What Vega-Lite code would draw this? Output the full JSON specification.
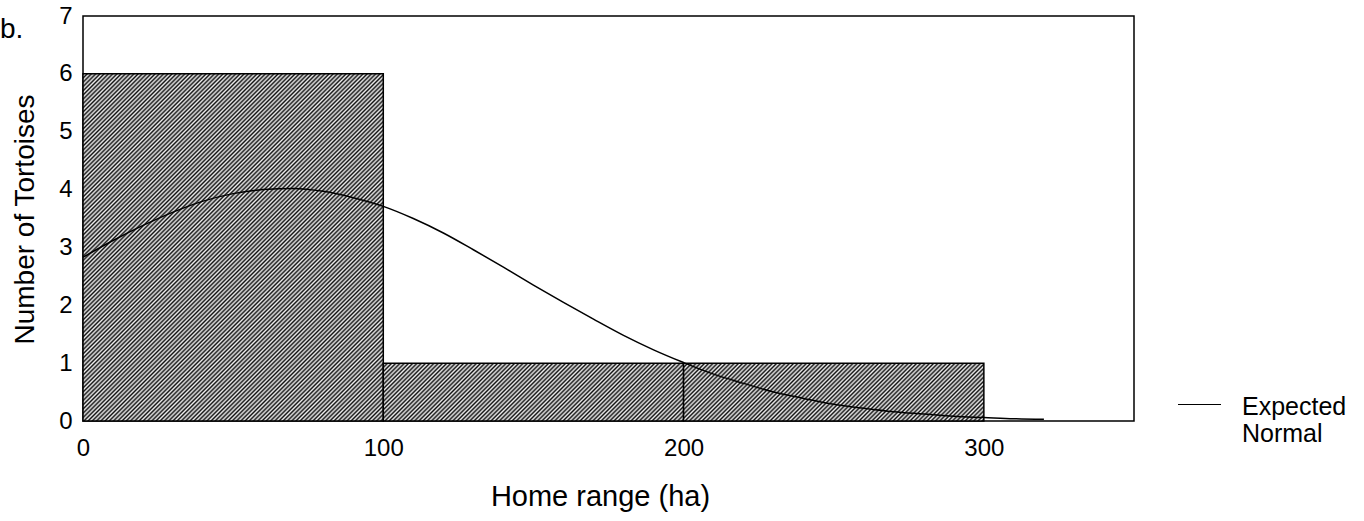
{
"$schema": "https://vega.github.io/schema/vega-lite/v6.json",
"width": 1051,
"height": 405,
"autosize": {"type": "none"},
"padding": {"left": 83, "top": 16, "right": 230, "bottom": 100},
"background": "white",
"title": {"text": "b.", "anchor": "start", "frame": "group", "fontSize": 28, "font": "Liberation Sans", "fontWeight": "normal", "color": "#000", "baseline": "alphabetic", "offset": 0, "dx": -83, "dy": 62},
"datasets": {
"bars": [
{"start": 0, "end": 100, "count": 6},
{"start": 100, "end": 200, "count": 1},
{"start": 200, "end": 300, "count": 1}
],
"curve": [{"x":0,"y":2.83},{"x":10,"y":3.12},{"x":20,"y":3.38},{"x":30,"y":3.61},{"x":40,"y":3.8},{"x":50,"y":3.93},{"x":60,"y":4.0},{"x":70,"y":4.02},{"x":80,"y":3.97},{"x":90,"y":3.86},{"x":100,"y":3.71},{"x":110,"y":3.5},{"x":120,"y":3.25},{"x":130,"y":2.96},{"x":140,"y":2.66},{"x":150,"y":2.35},{"x":160,"y":2.05},{"x":170,"y":1.76},{"x":180,"y":1.48},{"x":190,"y":1.23},{"x":200,"y":1.01},{"x":210,"y":0.81},{"x":220,"y":0.65},{"x":230,"y":0.5},{"x":240,"y":0.39},{"x":250,"y":0.29},{"x":260,"y":0.22},{"x":270,"y":0.16},{"x":280,"y":0.12},{"x":290,"y":0.08},{"x":300,"y":0.06},{"x":310,"y":0.04},{"x":320,"y":0.03}]
},
"layer": [
{
"data": {"name": "bars"},
"transform": [{"filter": "datum.count > 3"}],
"mark": {"type": "rect", "stroke": "#000", "strokeWidth": 1.5, "fill": {"gradient": "linear", "x1": 0, "y1": 0, "x2": 1.008, "y2": 1.165, "stops": [
{"offset":0,"color":"#111"},{"offset":0.003,"color":"#eee"},{"offset":0.006,"color":"#111"},{"offset":0.009,"color":"#eee"},{"offset":0.012,"color":"#111"},{"offset":0.015,"color":"#eee"},{"offset":0.018,"color":"#111"},{"offset":0.021,"color":"#eee"},{"offset":0.024,"color":"#111"},{"offset":0.027,"color":"#eee"},
{"offset":0.030,"color":"#111"},{"offset":0.033,"color":"#eee"},{"offset":0.036,"color":"#111"},{"offset":0.039,"color":"#eee"},{"offset":0.042,"color":"#111"},{"offset":0.045,"color":"#eee"},{"offset":0.048,"color":"#111"},{"offset":0.051,"color":"#eee"},{"offset":0.054,"color":"#111"},{"offset":0.057,"color":"#eee"},
{"offset":0.060,"color":"#111"},{"offset":0.063,"color":"#eee"},{"offset":0.066,"color":"#111"},{"offset":0.069,"color":"#eee"},{"offset":0.072,"color":"#111"},{"offset":0.075,"color":"#eee"},{"offset":0.078,"color":"#111"},{"offset":0.081,"color":"#eee"},{"offset":0.084,"color":"#111"},{"offset":0.087,"color":"#eee"},
{"offset":0.090,"color":"#111"},{"offset":0.093,"color":"#eee"},{"offset":0.096,"color":"#111"},{"offset":0.099,"color":"#eee"},{"offset":0.102,"color":"#111"},{"offset":0.105,"color":"#eee"},{"offset":0.108,"color":"#111"},{"offset":0.111,"color":"#eee"},{"offset":0.114,"color":"#111"},{"offset":0.117,"color":"#eee"},
{"offset":0.120,"color":"#111"},{"offset":0.123,"color":"#eee"},{"offset":0.126,"color":"#111"},{"offset":0.129,"color":"#eee"},{"offset":0.132,"color":"#111"},{"offset":0.135,"color":"#eee"},{"offset":0.138,"color":"#111"},{"offset":0.141,"color":"#eee"},{"offset":0.144,"color":"#111"},{"offset":0.147,"color":"#eee"},
{"offset":0.150,"color":"#111"},{"offset":0.153,"color":"#eee"},{"offset":0.156,"color":"#111"},{"offset":0.159,"color":"#eee"},{"offset":0.162,"color":"#111"},{"offset":0.165,"color":"#eee"},{"offset":0.168,"color":"#111"},{"offset":0.171,"color":"#eee"},{"offset":0.174,"color":"#111"},{"offset":0.177,"color":"#eee"},
{"offset":0.180,"color":"#111"},{"offset":0.183,"color":"#eee"},{"offset":0.186,"color":"#111"},{"offset":0.189,"color":"#eee"},{"offset":0.192,"color":"#111"},{"offset":0.195,"color":"#eee"},{"offset":0.198,"color":"#111"},{"offset":0.201,"color":"#eee"},{"offset":0.204,"color":"#111"},{"offset":0.207,"color":"#eee"},
{"offset":0.210,"color":"#111"},{"offset":0.213,"color":"#eee"},{"offset":0.216,"color":"#111"},{"offset":0.219,"color":"#eee"},{"offset":0.222,"color":"#111"},{"offset":0.225,"color":"#eee"},{"offset":0.228,"color":"#111"},{"offset":0.231,"color":"#eee"},{"offset":0.234,"color":"#111"},{"offset":0.237,"color":"#eee"},
{"offset":0.240,"color":"#111"},{"offset":0.243,"color":"#eee"},{"offset":0.246,"color":"#111"},{"offset":0.249,"color":"#eee"},{"offset":0.252,"color":"#111"},{"offset":0.255,"color":"#eee"},{"offset":0.258,"color":"#111"},{"offset":0.261,"color":"#eee"},{"offset":0.264,"color":"#111"},{"offset":0.267,"color":"#eee"},
{"offset":0.270,"color":"#111"},{"offset":0.273,"color":"#eee"},{"offset":0.276,"color":"#111"},{"offset":0.279,"color":"#eee"},{"offset":0.282,"color":"#111"},{"offset":0.285,"color":"#eee"},{"offset":0.288,"color":"#111"},{"offset":0.291,"color":"#eee"},{"offset":0.294,"color":"#111"},{"offset":0.297,"color":"#eee"},
{"offset":0.300,"color":"#111"},{"offset":0.303,"color":"#eee"},{"offset":0.306,"color":"#111"},{"offset":0.309,"color":"#eee"},{"offset":0.312,"color":"#111"},{"offset":0.315,"color":"#eee"},{"offset":0.318,"color":"#111"},{"offset":0.321,"color":"#eee"},{"offset":0.324,"color":"#111"},{"offset":0.327,"color":"#eee"},
{"offset":0.330,"color":"#111"},{"offset":0.333,"color":"#eee"},{"offset":0.336,"color":"#111"},{"offset":0.339,"color":"#eee"},{"offset":0.342,"color":"#111"},{"offset":0.345,"color":"#eee"},{"offset":0.348,"color":"#111"},{"offset":0.351,"color":"#eee"},{"offset":0.354,"color":"#111"},{"offset":0.357,"color":"#eee"},
{"offset":0.360,"color":"#111"},{"offset":0.363,"color":"#eee"},{"offset":0.366,"color":"#111"},{"offset":0.369,"color":"#eee"},{"offset":0.372,"color":"#111"},{"offset":0.375,"color":"#eee"},{"offset":0.378,"color":"#111"},{"offset":0.381,"color":"#eee"},{"offset":0.384,"color":"#111"},{"offset":0.387,"color":"#eee"},
{"offset":0.390,"color":"#111"},{"offset":0.393,"color":"#eee"},{"offset":0.396,"color":"#111"},{"offset":0.399,"color":"#eee"},{"offset":0.402,"color":"#111"},{"offset":0.405,"color":"#eee"},{"offset":0.408,"color":"#111"},{"offset":0.411,"color":"#eee"},{"offset":0.414,"color":"#111"},{"offset":0.417,"color":"#eee"},
{"offset":0.420,"color":"#111"},{"offset":0.423,"color":"#eee"},{"offset":0.426,"color":"#111"},{"offset":0.429,"color":"#eee"},{"offset":0.432,"color":"#111"},{"offset":0.435,"color":"#eee"},{"offset":0.438,"color":"#111"},{"offset":0.441,"color":"#eee"},{"offset":0.444,"color":"#111"},{"offset":0.447,"color":"#eee"},
{"offset":0.450,"color":"#111"},{"offset":0.453,"color":"#eee"},{"offset":0.456,"color":"#111"},{"offset":0.459,"color":"#eee"},{"offset":0.462,"color":"#111"},{"offset":0.465,"color":"#eee"},{"offset":0.468,"color":"#111"},{"offset":0.471,"color":"#eee"},{"offset":0.474,"color":"#111"},{"offset":0.477,"color":"#eee"},
{"offset":0.480,"color":"#111"},{"offset":0.483,"color":"#eee"},{"offset":0.486,"color":"#111"},{"offset":0.489,"color":"#eee"},{"offset":0.492,"color":"#111"},{"offset":0.495,"color":"#eee"},{"offset":0.498,"color":"#111"},{"offset":0.501,"color":"#eee"},{"offset":0.504,"color":"#111"},{"offset":0.507,"color":"#eee"},
{"offset":0.510,"color":"#111"},{"offset":0.513,"color":"#eee"},{"offset":0.516,"color":"#111"},{"offset":0.519,"color":"#eee"},{"offset":0.522,"color":"#111"},{"offset":0.525,"color":"#eee"},{"offset":0.528,"color":"#111"},{"offset":0.531,"color":"#eee"},{"offset":0.534,"color":"#111"},{"offset":0.537,"color":"#eee"},
{"offset":0.540,"color":"#111"},{"offset":0.543,"color":"#eee"},{"offset":0.546,"color":"#111"},{"offset":0.549,"color":"#eee"},{"offset":0.552,"color":"#111"},{"offset":0.555,"color":"#eee"},{"offset":0.558,"color":"#111"},{"offset":0.561,"color":"#eee"},{"offset":0.564,"color":"#111"},{"offset":0.567,"color":"#eee"},
{"offset":0.570,"color":"#111"},{"offset":0.573,"color":"#eee"},{"offset":0.576,"color":"#111"},{"offset":0.579,"color":"#eee"},{"offset":0.582,"color":"#111"},{"offset":0.585,"color":"#eee"},{"offset":0.588,"color":"#111"},{"offset":0.591,"color":"#eee"},{"offset":0.594,"color":"#111"},{"offset":0.597,"color":"#eee"},
{"offset":0.600,"color":"#111"},{"offset":0.603,"color":"#eee"},{"offset":0.606,"color":"#111"},{"offset":0.609,"color":"#eee"},{"offset":0.612,"color":"#111"},{"offset":0.615,"color":"#eee"},{"offset":0.618,"color":"#111"},{"offset":0.621,"color":"#eee"},{"offset":0.624,"color":"#111"},{"offset":0.627,"color":"#eee"},
{"offset":0.630,"color":"#111"},{"offset":0.633,"color":"#eee"},{"offset":0.636,"color":"#111"},{"offset":0.639,"color":"#eee"},{"offset":0.642,"color":"#111"},{"offset":0.645,"color":"#eee"},{"offset":0.648,"color":"#111"},{"offset":0.651,"color":"#eee"},{"offset":0.654,"color":"#111"},{"offset":0.657,"color":"#eee"},
{"offset":0.660,"color":"#111"},{"offset":0.663,"color":"#eee"},{"offset":0.666,"color":"#111"},{"offset":0.669,"color":"#eee"},{"offset":0.672,"color":"#111"},{"offset":0.675,"color":"#eee"},{"offset":0.678,"color":"#111"},{"offset":0.681,"color":"#eee"},{"offset":0.684,"color":"#111"},{"offset":0.687,"color":"#eee"},
{"offset":0.690,"color":"#111"},{"offset":0.693,"color":"#eee"},{"offset":0.696,"color":"#111"},{"offset":0.699,"color":"#eee"},{"offset":0.702,"color":"#111"},{"offset":0.705,"color":"#eee"},{"offset":0.708,"color":"#111"},{"offset":0.711,"color":"#eee"},{"offset":0.714,"color":"#111"},{"offset":0.717,"color":"#eee"},
{"offset":0.720,"color":"#111"},{"offset":0.723,"color":"#eee"},{"offset":0.726,"color":"#111"},{"offset":0.729,"color":"#eee"},{"offset":0.732,"color":"#111"},{"offset":0.735,"color":"#eee"},{"offset":0.738,"color":"#111"},{"offset":0.741,"color":"#eee"},{"offset":0.744,"color":"#111"},{"offset":0.747,"color":"#eee"},
{"offset":0.750,"color":"#111"},{"offset":0.753,"color":"#eee"},{"offset":0.756,"color":"#111"},{"offset":0.759,"color":"#eee"},{"offset":0.762,"color":"#111"},{"offset":0.765,"color":"#eee"},{"offset":0.768,"color":"#111"},{"offset":0.771,"color":"#eee"},{"offset":0.774,"color":"#111"},{"offset":0.777,"color":"#eee"},
{"offset":0.780,"color":"#111"},{"offset":0.783,"color":"#eee"},{"offset":0.786,"color":"#111"},{"offset":0.789,"color":"#eee"},{"offset":0.792,"color":"#111"},{"offset":0.795,"color":"#eee"},{"offset":0.798,"color":"#111"},{"offset":0.801,"color":"#eee"},{"offset":0.804,"color":"#111"},{"offset":0.807,"color":"#eee"},
{"offset":0.810,"color":"#111"},{"offset":0.813,"color":"#eee"},{"offset":0.816,"color":"#111"},{"offset":0.819,"color":"#eee"},{"offset":0.822,"color":"#111"},{"offset":0.825,"color":"#eee"},{"offset":0.828,"color":"#111"},{"offset":0.831,"color":"#eee"},{"offset":0.834,"color":"#111"},{"offset":0.837,"color":"#eee"},
{"offset":0.840,"color":"#111"},{"offset":0.843,"color":"#eee"},{"offset":0.846,"color":"#111"},{"offset":0.849,"color":"#eee"},{"offset":0.852,"color":"#111"},{"offset":0.855,"color":"#eee"},{"offset":0.858,"color":"#111"},{"offset":0.861,"color":"#eee"},{"offset":0.864,"color":"#111"},{"offset":0.867,"color":"#eee"},
{"offset":0.870,"color":"#111"},{"offset":0.873,"color":"#eee"},{"offset":0.876,"color":"#111"},{"offset":0.879,"color":"#eee"},{"offset":0.882,"color":"#111"},{"offset":0.885,"color":"#eee"},{"offset":0.888,"color":"#111"},{"offset":0.891,"color":"#eee"},{"offset":0.894,"color":"#111"},{"offset":0.897,"color":"#eee"},
{"offset":0.900,"color":"#111"},{"offset":0.903,"color":"#eee"},{"offset":0.906,"color":"#111"},{"offset":0.909,"color":"#eee"},{"offset":0.912,"color":"#111"},{"offset":0.915,"color":"#eee"},{"offset":0.918,"color":"#111"},{"offset":0.921,"color":"#eee"}
]}},
"encoding": {
"x": {"field": "start", "type": "quantitative", "scale": {"domain": [0, 350], "nice": false, "zero": false},
 "axis": {"values": [0, 100, 200, 300], "format": "d", "labelFontSize": 24, "labelPadding": 15, "labelFlush": false, "labelOverlap": false, "tickSize": 0, "title": "Home range (ha)", "titleFontSize": 29, "titleX": 517, "titleY": 84, "titleBaseline": "alphabetic", "titleAlign": "center", "titleAnchor": null}},
"x2": {"field": "end"},
"y": {"field": "count", "type": "quantitative", "scale": {"domain": [0, 7], "nice": false},
 "axis": {"values": [0, 1, 2, 3, 4, 5, 6, 7], "format": "d", "labelFontSize": 24, "labelPadding": 11, "labelFlush": false, "labelOverlap": false, "tickSize": 0, "title": "Number of Tortoises", "titleFontSize": 28, "titleX": -50, "titleY": 203, "titleAngle": -90, "titleBaseline": "alphabetic", "titleAlign": "center"}},
"y2": {"datum": 0}
}
},
{
"data": {"name": "bars"},
"transform": [{"filter": "datum.count <= 3"}],
"mark": {"type": "rect", "stroke": "#000", "strokeWidth": 1.5, "fill": {"gradient": "linear", "x1": 0, "y1": 0, "x2": 2.2705, "y2": 0.4375, "stops": [
{"offset":0,"color":"#111"},{"offset":0.003,"color":"#eee"},{"offset":0.006,"color":"#111"},{"offset":0.009,"color":"#eee"},{"offset":0.012,"color":"#111"},{"offset":0.015,"color":"#eee"},{"offset":0.018,"color":"#111"},{"offset":0.021,"color":"#eee"},{"offset":0.024,"color":"#111"},{"offset":0.027,"color":"#eee"},
{"offset":0.030,"color":"#111"},{"offset":0.033,"color":"#eee"},{"offset":0.036,"color":"#111"},{"offset":0.039,"color":"#eee"},{"offset":0.042,"color":"#111"},{"offset":0.045,"color":"#eee"},{"offset":0.048,"color":"#111"},{"offset":0.051,"color":"#eee"},{"offset":0.054,"color":"#111"},{"offset":0.057,"color":"#eee"},
{"offset":0.060,"color":"#111"},{"offset":0.063,"color":"#eee"},{"offset":0.066,"color":"#111"},{"offset":0.069,"color":"#eee"},{"offset":0.072,"color":"#111"},{"offset":0.075,"color":"#eee"},{"offset":0.078,"color":"#111"},{"offset":0.081,"color":"#eee"},{"offset":0.084,"color":"#111"},{"offset":0.087,"color":"#eee"},
{"offset":0.090,"color":"#111"},{"offset":0.093,"color":"#eee"},{"offset":0.096,"color":"#111"},{"offset":0.099,"color":"#eee"},{"offset":0.102,"color":"#111"},{"offset":0.105,"color":"#eee"},{"offset":0.108,"color":"#111"},{"offset":0.111,"color":"#eee"},{"offset":0.114,"color":"#111"},{"offset":0.117,"color":"#eee"},
{"offset":0.120,"color":"#111"},{"offset":0.123,"color":"#eee"},{"offset":0.126,"color":"#111"},{"offset":0.129,"color":"#eee"},{"offset":0.132,"color":"#111"},{"offset":0.135,"color":"#eee"},{"offset":0.138,"color":"#111"},{"offset":0.141,"color":"#eee"},{"offset":0.144,"color":"#111"},{"offset":0.147,"color":"#eee"},
{"offset":0.150,"color":"#111"},{"offset":0.153,"color":"#eee"},{"offset":0.156,"color":"#111"},{"offset":0.159,"color":"#eee"},{"offset":0.162,"color":"#111"},{"offset":0.165,"color":"#eee"},{"offset":0.168,"color":"#111"},{"offset":0.171,"color":"#eee"},{"offset":0.174,"color":"#111"},{"offset":0.177,"color":"#eee"},
{"offset":0.180,"color":"#111"},{"offset":0.183,"color":"#eee"},{"offset":0.186,"color":"#111"},{"offset":0.189,"color":"#eee"},{"offset":0.192,"color":"#111"},{"offset":0.195,"color":"#eee"},{"offset":0.198,"color":"#111"},{"offset":0.201,"color":"#eee"},{"offset":0.204,"color":"#111"},{"offset":0.207,"color":"#eee"},
{"offset":0.210,"color":"#111"},{"offset":0.213,"color":"#eee"},{"offset":0.216,"color":"#111"},{"offset":0.219,"color":"#eee"},{"offset":0.222,"color":"#111"},{"offset":0.225,"color":"#eee"},{"offset":0.228,"color":"#111"},{"offset":0.231,"color":"#eee"},{"offset":0.234,"color":"#111"},{"offset":0.237,"color":"#eee"},
{"offset":0.240,"color":"#111"},{"offset":0.243,"color":"#eee"},{"offset":0.246,"color":"#111"},{"offset":0.249,"color":"#eee"},{"offset":0.252,"color":"#111"},{"offset":0.255,"color":"#eee"},{"offset":0.258,"color":"#111"},{"offset":0.261,"color":"#eee"},{"offset":0.264,"color":"#111"},{"offset":0.267,"color":"#eee"},
{"offset":0.270,"color":"#111"},{"offset":0.273,"color":"#eee"},{"offset":0.276,"color":"#111"},{"offset":0.279,"color":"#eee"},{"offset":0.282,"color":"#111"},{"offset":0.285,"color":"#eee"},{"offset":0.288,"color":"#111"},{"offset":0.291,"color":"#eee"},{"offset":0.294,"color":"#111"},{"offset":0.297,"color":"#eee"},
{"offset":0.300,"color":"#111"},{"offset":0.303,"color":"#eee"},{"offset":0.306,"color":"#111"},{"offset":0.309,"color":"#eee"},{"offset":0.312,"color":"#111"},{"offset":0.315,"color":"#eee"},{"offset":0.318,"color":"#111"},{"offset":0.321,"color":"#eee"},{"offset":0.324,"color":"#111"},{"offset":0.327,"color":"#eee"},
{"offset":0.330,"color":"#111"},{"offset":0.333,"color":"#eee"},{"offset":0.336,"color":"#111"},{"offset":0.339,"color":"#eee"},{"offset":0.342,"color":"#111"},{"offset":0.345,"color":"#eee"},{"offset":0.348,"color":"#111"},{"offset":0.351,"color":"#eee"},{"offset":0.354,"color":"#111"},{"offset":0.357,"color":"#eee"},
{"offset":0.360,"color":"#111"},{"offset":0.363,"color":"#eee"},{"offset":0.366,"color":"#111"},{"offset":0.369,"color":"#eee"},{"offset":0.372,"color":"#111"},{"offset":0.375,"color":"#eee"},{"offset":0.378,"color":"#111"},{"offset":0.381,"color":"#eee"},{"offset":0.384,"color":"#111"},{"offset":0.387,"color":"#eee"},
{"offset":0.390,"color":"#111"},{"offset":0.393,"color":"#eee"},{"offset":0.396,"color":"#111"},{"offset":0.399,"color":"#eee"},{"offset":0.402,"color":"#111"},{"offset":0.405,"color":"#eee"},{"offset":0.408,"color":"#111"},{"offset":0.411,"color":"#eee"},{"offset":0.414,"color":"#111"},{"offset":0.417,"color":"#eee"},
{"offset":0.420,"color":"#111"},{"offset":0.423,"color":"#eee"},{"offset":0.426,"color":"#111"},{"offset":0.429,"color":"#eee"},{"offset":0.432,"color":"#111"},{"offset":0.435,"color":"#eee"},{"offset":0.438,"color":"#111"},{"offset":0.441,"color":"#eee"},{"offset":0.444,"color":"#111"},{"offset":0.447,"color":"#eee"},
{"offset":0.450,"color":"#111"},{"offset":0.453,"color":"#eee"},{"offset":0.456,"color":"#111"},{"offset":0.459,"color":"#eee"},{"offset":0.462,"color":"#111"},{"offset":0.465,"color":"#eee"},{"offset":0.468,"color":"#111"},{"offset":0.471,"color":"#eee"},{"offset":0.474,"color":"#111"},{"offset":0.477,"color":"#eee"},
{"offset":0.480,"color":"#111"},{"offset":0.483,"color":"#eee"},{"offset":0.486,"color":"#111"},{"offset":0.489,"color":"#eee"},{"offset":0.492,"color":"#111"},{"offset":0.495,"color":"#eee"},{"offset":0.498,"color":"#111"},{"offset":0.501,"color":"#eee"},{"offset":0.504,"color":"#111"},{"offset":0.507,"color":"#eee"},
{"offset":0.510,"color":"#111"},{"offset":0.513,"color":"#eee"},{"offset":0.516,"color":"#111"}
]}},
"encoding": {
"x": {"field": "start", "type": "quantitative"},
"x2": {"field": "end"},
"y": {"field": "count", "type": "quantitative"},
"y2": {"datum": 0}
}
},
{
"data": {"name": "curve"},
"mark": {"type": "line", "strokeWidth": 1.5, "interpolate": "monotone"},
"encoding": {
"x": {"field": "x", "type": "quantitative"},
"y": {"field": "y", "type": "quantitative"},
"stroke": {"datum": "Expected Normal", "type": "nominal", "scale": {"range": ["#000"]},
 "legend": {"orient": "none", "legendX": 1094, "legendY": 366, "title": null, "padding": 0, "symbolType": "stroke", "symbolSize": 1849, "symbolStrokeWidth": 1.2, "labelFontSize": 25, "labelFont": "Liberation Sans", "labelColor": "#000", "labelExpr": "['Expected', 'Normal']", "labelBaseline": "alphabetic", "labelLineHeight": 30, "labelOffset": 20, "labelLimit": 0,
  "encode": {"labels": {"update": {"dy": {"value": 10}}}}}}
}
}
],
"config": {
"view": {"stroke": "#000", "strokeWidth": 1.5},
"font": "Liberation Sans",
"axis": {"labelColor": "#000", "titleColor": "#000", "labelFont": "Liberation Sans", "titleFont": "Liberation Sans", "grid": false, "domain": false, "ticks": false, "titleFontWeight": "normal"}
}
}
